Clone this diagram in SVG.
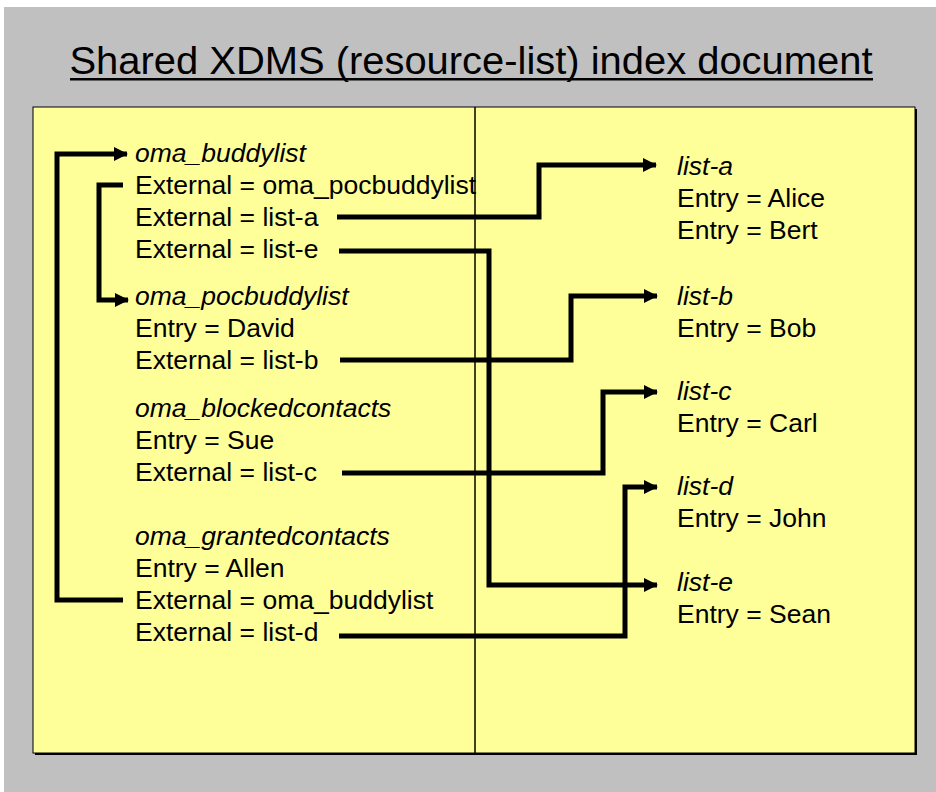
<svg xmlns="http://www.w3.org/2000/svg" width="936" height="792" viewBox="0 0 936 792">
<defs>
<style>
.t{font-family:"Liberation Sans",Arial,sans-serif;font-size:26.5px;fill:#000}
.i{font-style:italic}
.c{fill:none;stroke:#000;stroke-width:5;stroke-linejoin:miter}
</style>
<marker id="ah" markerWidth="14" markerHeight="14" refX="13" refY="7" orient="auto" markerUnits="userSpaceOnUse">
<path d="M0,0 L14,7 L0,14 Z" fill="#000"/>
</marker>
</defs>
<rect x="0" y="0" width="936" height="792" fill="#fff"/>
<rect x="4" y="7" width="932" height="785" fill="#C0C0C0"/>
<text x="471" y="74" text-anchor="middle" textLength="803" lengthAdjust="spacingAndGlyphs" style="font-family:'Liberation Sans',Arial,sans-serif;font-size:38px;fill:#000">Shared XDMS (resource-list) index document</text>
<rect x="70" y="78" width="803" height="2.5" fill="#000"/>
<rect x="35" y="109" width="882" height="646" fill="#000"/>
<rect x="33" y="107" width="882" height="646" fill="#FFFF99" stroke="#000" stroke-width="1"/>
<line x1="475" y1="107" x2="475" y2="753" stroke="#000" stroke-width="1.5"/>

<g id="connectors">
<polyline class="c" points="123,600 57,600 57,154 127,154" marker-end="url(#ah)"/>
<polyline class="c" points="123,185 99,185 99,300 128,300" marker-end="url(#ah)"/>
<polyline class="c" points="337,217 539,217 539,165 656,165" marker-end="url(#ah)"/>
<polyline class="c" points="339,251 489,251 489,585 657,585" marker-end="url(#ah)"/>
<polyline class="c" points="340,360 571,360 571,296 657,296" marker-end="url(#ah)"/>
<polyline class="c" points="342,473 603,473 603,392 657,392" marker-end="url(#ah)"/>
<polyline class="c" points="339,636 625,636 625,487 657,487" marker-end="url(#ah)"/>
</g>

<g id="oma_buddylist">
<text class="t i" x="135" y="162">oma_buddylist</text>
<text class="t" x="135" y="194">External = oma_pocbuddylist</text>
<text class="t" x="135" y="226">External = list-a</text>
<text class="t" x="135" y="258">External = list-e</text>
</g>
<g id="oma_pocbuddylist">
<text class="t i" x="135" y="305">oma_pocbuddylist</text>
<text class="t" x="135" y="337">Entry = David</text>
<text class="t" x="135" y="369">External = list-b</text>
</g>
<g id="oma_blockedcontacts">
<text class="t i" x="135" y="417">oma_blockedcontacts</text>
<text class="t" x="135" y="449">Entry = Sue</text>
<text class="t" x="135" y="481">External = list-c</text>
</g>
<g id="oma_grantedcontacts">
<text class="t i" x="135" y="545">oma_grantedcontacts</text>
<text class="t" x="135" y="577">Entry = Allen</text>
<text class="t" x="135" y="609">External = oma_buddylist</text>
<text class="t" x="135" y="641">External = list-d</text>
</g>

<g id="list-a">
<text class="t i" x="677" y="175">list-a</text>
<text class="t" x="677" y="207">Entry = Alice</text>
<text class="t" x="677" y="239">Entry = Bert</text>
</g>
<g id="list-b">
<text class="t i" x="677" y="305">list-b</text>
<text class="t" x="677" y="337">Entry = Bob</text>
</g>
<g id="list-c">
<text class="t i" x="677" y="400">list-c</text>
<text class="t" x="677" y="432">Entry = Carl</text>
</g>
<g id="list-d">
<text class="t i" x="677" y="495">list-d</text>
<text class="t" x="677" y="527">Entry = John</text>
</g>
<g id="list-e">
<text class="t i" x="677" y="591">list-e</text>
<text class="t" x="677" y="623">Entry = Sean</text>
</g>
</svg>
